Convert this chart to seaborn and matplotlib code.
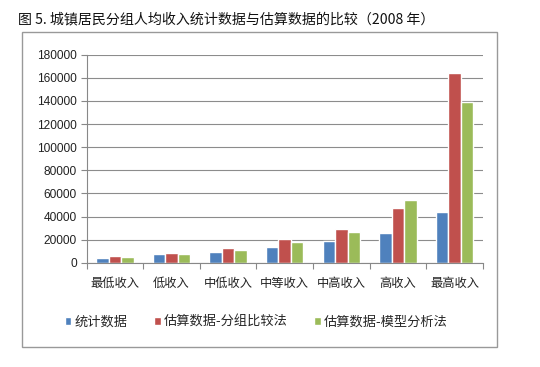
import pandas as pd
import matplotlib
matplotlib.use('Agg')
import matplotlib.pyplot as plt
import seaborn as sns
from matplotlib.patches import Rectangle

# 数据
groups = ['最低收入', '低收入', '中低收入', '中等收入', '中高收入', '高收入', '最高收入']
series_names = ['统计数据', '估算数据-分组比较法', '估算数据-模型分析法']
stat_vals = [4300, 7300, 9500, 13500, 19000, 26000, 43500]
group_vals = [5800, 8700, 13000, 20400, 29400, 47600, 164300]
model_vals = [4900, 7300, 11200, 17600, 27000, 54500, 138800]
y_ticks = [0, 20000, 40000, 60000, 80000, 100000, 120000, 140000, 160000, 180000]
colors = ['#4F81BD', '#C0504D', '#9BBB59']

df = pd.DataFrame({
    'group': groups * 3,
    'series': [s for s in series_names for _ in groups],
    'value': stat_vals + group_vals + model_vals,
})

sns.set_style('white')
plt.rcParams['font.family'] = ['Liberation Sans', 'Noto Sans CJK SC', 'DejaVu Sans']

fig = plt.figure(figsize=(5.4, 3.67), dpi=100)
ax = fig.add_axes([0.1605, 0.284, 0.7335, 0.567])

sns.barplot(data=df, x='group', y='value', hue='series', palette=colors,
            width=0.66, gap=0, saturation=1, ax=ax, legend=True)

ax.set_ylim(0, 180000)
ax.set_yticks(y_ticks)
ax.set_yticklabels([str(v) for v in y_ticks], fontsize=8.6, color='#222222')
ax.set_xlim(-0.5, len(groups) - 0.5)
ax.set_xticks(range(len(groups)))
ax.set_xticklabels(groups, fontsize=8.8, color='#222222',
                   family=['Noto Sans CJK SC', 'DejaVu Sans'])
ax.tick_params(axis='x', length=0, pad=10)
ax.tick_params(axis='y', length=4, color='#888888', width=0.8, pad=3, left=True)
# 类别分隔刻度
ax.set_xticks([i - 0.5 for i in range(len(groups) + 1)], minor=True)
ax.tick_params(axis='x', which='minor', length=4, color='#888888', width=0.8, bottom=True)
ax.set_xlabel('')
ax.set_ylabel('')
ax.grid(axis='y', color='#8c8c8c', linewidth=0.8)
ax.set_axisbelow(True)
for side in ['top', 'right']:
    ax.spines[side].set_visible(False)
for side in ['left', 'bottom']:
    ax.spines[side].set_color('#888888')
    ax.spines[side].set_linewidth(0.8)

# 图例
handles, labels = ax.get_legend_handles_labels()
ax.get_legend().remove()
fig.legend(handles, labels, loc='center', bbox_to_anchor=(0.475, 0.122), ncol=3,
           frameon=False, handlelength=0.5, handleheight=0.5, handletextpad=0.25,
           columnspacing=2.0, prop={'family': ['Noto Sans CJK SC', 'DejaVu Sans'], 'size': 9.5})

# 外框
fig.patches.append(Rectangle((22 / 540, 1 - 347 / 367), (497 - 22) / 540, (347 - 32) / 367,
                             transform=fig.transFigure, fill=False, edgecolor='#999999',
                             linewidth=1.0))

fig.text(18 / 540, 1 - 19 / 367, '图 5. 城镇居民分组人均收入统计数据与估算数据的比较（2008 年）',
         fontsize=10.1, va='center', ha='left', color='#111111',
         family=['Noto Sans CJK SC', 'DejaVu Sans'])

fig.savefig('out.png', dpi=100)
